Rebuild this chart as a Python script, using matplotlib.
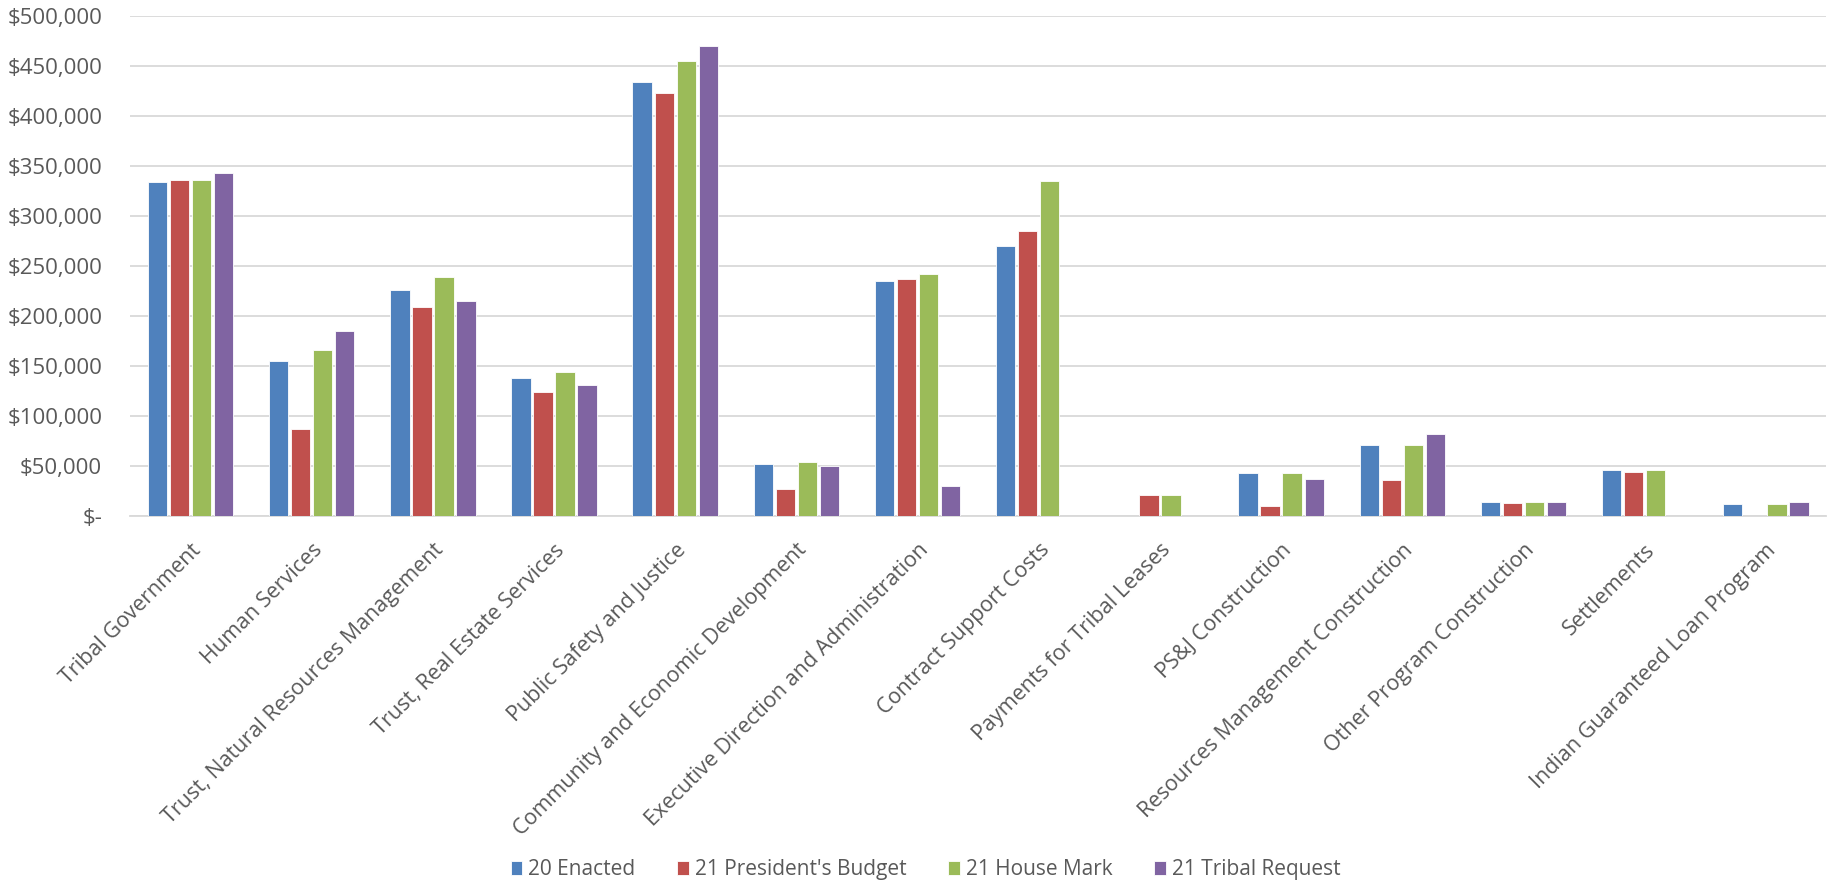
import numpy as np
import matplotlib
matplotlib.use("Agg")
import matplotlib.pyplot as plt
from matplotlib.ticker import FuncFormatter

plt.rcParams["font.family"] = ["Open Sans", "DejaVu Sans"]

categories = ["Tribal Government", "Human Services", "Trust, Natural Resources Management",
              "Trust, Real Estate Services", "Public Safety and Justice",
              "Community and Economic Development", "Executive Direction and Administration",
              "Contract Support Costs", "Payments for Tribal Leases", "PS&J Construction",
              "Resources Management Construction", "Other Program Construction",
              "Settlements", "Indian Guaranteed Loan Program"]

series_names = ["20 Enacted", "21 President's Budget", "21 House Mark", "21 Tribal Request"]

enacted_20 = [334000, 155300, 226200, 137700, 433500, 51700, 235000, 270400, 0, 42500, 70900, 14200, 45600, 11800]
pres_budget_21 = [336300, 87100, 209300, 123600, 423000, 27000, 236700, 285000, 21300, 10100, 36100, 12800, 43900, 0]
house_mark_21 = [336300, 166100, 239400, 143500, 454800, 53700, 242100, 334600, 21300, 42500, 70900, 14200, 45600, 11800]
tribal_request_21 = [343400, 184700, 214700, 131000, 470000, 50300, 29700, 0, 0, 37100, 82000, 14200, 0, 13800]

colors = ["#4F81BD", "#C0504D", "#9BBB59", "#8064A2"]

fig = plt.figure(figsize=(18.33, 8.84), dpi=100)
ax = fig.add_axes([0.0709, 0.4163, 0.9255, 0.5657])

x = np.arange(len(categories))
step = 0.182
width = 0.16
all_series = [enacted_20, pres_budget_21, house_mark_21, tribal_request_21]
for i, (vals, name, col) in enumerate(zip(all_series, series_names, colors)):
    ax.bar(x + (i - 1.5) * step, vals, width, color=col, label=name,
           edgecolor="white", linewidth=0.6, zorder=3)

ax.set_xlim(-0.5, len(categories) - 0.5)
ax.set_ylim(0, 500000)
ax.set_yticks(np.arange(0, 500001, 50000))
ax.yaxis.set_major_formatter(FuncFormatter(lambda v, p: "$-" if v == 0 else "${:,.0f}".format(v)))
ax.grid(axis="y", color="#d9d9d9", linewidth=1.3, zorder=0)
for s in ["top", "right", "left"]:
    ax.spines[s].set_visible(False)
ax.spines["bottom"].set_color("#d9d9d9")
ax.spines["bottom"].set_linewidth(1.3)
ax.tick_params(axis="y", length=0, pad=20, labelsize=16, labelcolor="#595959")
ax.tick_params(axis="x", length=0, pad=17, labelsize=15.5, labelcolor="#595959")
ax.set_xticks(x)
ax.set_xticklabels(categories, rotation=45, ha="right", va="top", rotation_mode="anchor")

leg = fig.legend(loc="center", bbox_to_anchor=(0.505, 0.016), ncol=4, frameon=False,
                 fontsize=15, handlelength=0.55, handleheight=0.7, handletextpad=0.3,
                 columnspacing=2.0)
for t in leg.get_texts():
    t.set_color("#595959")

plt.savefig("out.png", dpi=100)
